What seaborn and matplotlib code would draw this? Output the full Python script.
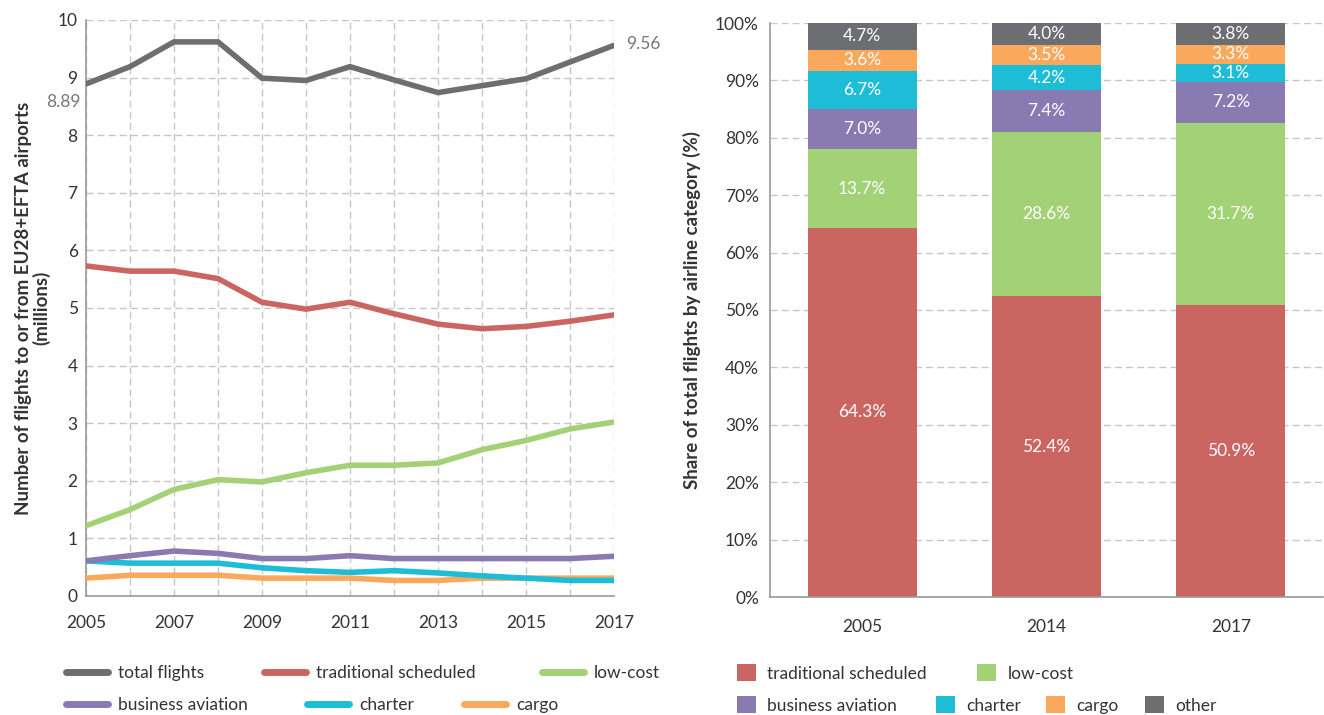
import numpy as np
import pandas as pd
import matplotlib
matplotlib.use("Agg")
import matplotlib.pyplot as plt
import seaborn as sns
from matplotlib.lines import Line2D
from matplotlib.patches import Patch

# ---------------- data ----------------
years = list(range(2005, 2018))
total_flights = [8.89, 9.19, 9.62, 9.62, 8.99, 8.95, 9.19, 8.96, 8.74, 8.86, 8.98, 9.27, 9.56]
traditional = [5.73, 5.64, 5.64, 5.51, 5.10, 4.98, 5.10, 4.90, 4.72, 4.64, 4.68, 4.77, 4.88]
low_cost = [1.22, 1.50, 1.85, 2.02, 1.98, 2.14, 2.27, 2.27, 2.31, 2.54, 2.70, 2.90, 3.02]
business = [0.61, 0.70, 0.78, 0.74, 0.65, 0.65, 0.70, 0.65, 0.65, 0.65, 0.65, 0.65, 0.69]
charter = [0.61, 0.57, 0.57, 0.57, 0.49, 0.44, 0.41, 0.44, 0.40, 0.35, 0.31, 0.27, 0.27]
cargo = [0.31, 0.36, 0.36, 0.36, 0.31, 0.31, 0.31, 0.27, 0.27, 0.31, 0.31, 0.31, 0.31]

line_series = ["total flights", "traditional scheduled", "low-cost",
               "business aviation", "charter", "cargo"]

bar_years = ["2005", "2014", "2017"]
bar_categories = ["traditional scheduled", "low-cost", "business aviation",
                  "charter", "cargo", "other"]
share_traditional = [64.3, 52.4, 50.9]
share_low_cost = [13.7, 28.6, 31.7]
share_business = [7.0, 7.4, 7.2]
share_charter = [6.7, 4.2, 3.1]
share_cargo = [3.6, 3.5, 3.3]
share_other = [4.7, 4.0, 3.8]

colors = {
    "total flights": "#6d6e71",
    "traditional scheduled": "#cb6562",
    "low-cost": "#a2d176",
    "business aviation": "#8a7ab2",
    "charter": "#1dbdd7",
    "cargo": "#f9a85c",
    "other": "#6d6e71",
}

# ---------------- style ----------------
sns.set_theme(style="white")
plt.rcParams["font.family"] = ["Lato", "DejaVu Sans"]
text_color = "#333333"
grid_color = "#c6c6c6"
spine_color = "#9a9a9a"

W, H = 1324, 715
fig = plt.figure(figsize=(W / 100, H / 100), dpi=100)

def ax_rect(x0, y0, x1, y1):
    return [x0 / W, 1 - y1 / H, (x1 - x0) / W, (y1 - y0) / H]

# ---------------- left: line chart ----------------
ax1 = fig.add_axes(ax_rect(86, 20, 614, 596))
values = [total_flights, traditional, low_cost, business, charter, cargo]
df_lines = pd.DataFrame({
    "year": np.tile(years, len(line_series)),
    "value": np.concatenate(values),
    "series": np.repeat(line_series, len(years)),
})
sns.lineplot(data=df_lines, x="year", y="value", hue="series",
             hue_order=line_series[::-1], palette=colors, linewidth=4.0,
             legend=False, ax=ax1, zorder=3)
for ln in ax1.lines:
    ln.set_solid_capstyle("round")
    ln.set_solid_joinstyle("miter")

ax1.set_xlim(2005, 2017)
ax1.set_ylim(0, 10)
ax1.set_xticks(years)
ax1.set_xticklabels([str(y) if (y - 2005) % 2 == 0 else "" for y in years])
ax1.set_yticks(range(0, 11))
ax1.grid(True, axis="both", linestyle=(0, (5, 3)), color=grid_color, linewidth=1.0)
ax1.set_axisbelow(True)
ax1.tick_params(axis="both", length=0, labelsize=12.5, colors=text_color)
ax1.tick_params(axis="x", pad=14)
ax1.tick_params(axis="y", pad=6)
for s in ["top", "right"]:
    ax1.spines[s].set_visible(False)
for s in ["left", "bottom"]:
    ax1.spines[s].set_color(spine_color)
    ax1.spines[s].set_linewidth(1.2)
ax1.set_xlabel("")
ax1.set_ylabel("Number of flights to or from EU28+EFTA airports\n(millions)",
               fontsize=13.5, fontweight="bold", color=text_color, labelpad=5,
               linespacing=1.05)

ax1.annotate(f"{total_flights[0]:.2f}", xy=(years[0], total_flights[0]),
             xytext=(-4, -13), textcoords="offset points", ha="right", va="center",
             fontsize=12.5, color="#777777", annotation_clip=False)
ax1.annotate(f"{total_flights[-1]:.2f}", xy=(years[-1], total_flights[-1]),
             xytext=(9, 1), textcoords="offset points", ha="left", va="center",
             fontsize=12.5, color="#777777", annotation_clip=False)

# ---------------- right: stacked bars ----------------
ax2 = fig.add_axes(ax_rect(770, 23, 1323, 597))
shares = [share_traditional, share_low_cost, share_business,
          share_charter, share_cargo, share_other]
share_arr = np.array(shares)
cum = np.cumsum(share_arr, axis=0)
for i in range(len(bar_categories) - 1, -1, -1):
    df_bar = pd.DataFrame({"year": bar_years, "cum": cum[i]})
    sns.barplot(data=df_bar, x="year", y="cum", order=bar_years,
                color=colors[bar_categories[i]], saturation=1, width=0.59,
                ax=ax2, zorder=2, linewidth=0)

for i in range(len(bar_categories)):
    for j in range(len(bar_years)):
        v = share_arr[i, j]
        ax2.text(j, cum[i, j] - v / 2, f"{v:.1f}%", ha="center", va="center",
                 color="white", fontsize=12.5, zorder=5)

ax2.set_xlim(-0.5, 2.5)
ax2.set_ylim(0, 100)
ax2.set_yticks(range(0, 101, 10))
ax2.set_yticklabels([f"{t}%" for t in range(0, 101, 10)])
ax2.grid(True, axis="y", linestyle=(0, (5, 3)), color=grid_color, linewidth=1.0)
ax2.grid(False, axis="x")
ax2.set_axisbelow(True)
ax2.tick_params(axis="both", length=0, labelsize=12.5, colors=text_color)
ax2.tick_params(axis="x", pad=16)
ax2.tick_params(axis="y", pad=8)
for s in ["top", "right"]:
    ax2.spines[s].set_visible(False)
for s in ["left", "bottom"]:
    ax2.spines[s].set_color(spine_color)
    ax2.spines[s].set_linewidth(1.2)
ax2.set_xlabel("")
ax2.set_ylabel("Share of total flights by airline category (%)", fontsize=13.5,
               fontweight="bold", color=text_color, labelpad=10)

# ---------------- legends ----------------
row1, row2 = 673, 705
left_pos = {
    "total flights": (66, row1), "traditional scheduled": (264, row1),
    "low-cost": (542, row1), "business aviation": (66, row2),
    "charter": (307, row2), "cargo": (464, row2),
}
for name in line_series:
    h = Line2D([0], [0], color=colors[name], linewidth=5, solid_capstyle="round")
    fig.legend(handles=[h], labels=[name], loc="center left",
               bbox_to_anchor=(left_pos[name][0] / W, 1 - left_pos[name][1] / H),
               frameon=False, fontsize=12.5, borderpad=0, borderaxespad=0,
               handlelength=2.4, handletextpad=0.6, labelcolor=text_color)

right_pos = {
    "traditional scheduled": (737, row1), "low-cost": (977, row1),
    "business aviation": (737, row2), "charter": (936, row2),
    "cargo": (1046, row2), "other": (1145, row2),
}
for name in bar_categories:
    h = Patch(facecolor=colors[name], edgecolor="none")
    fig.legend(handles=[h], labels=[name], loc="center left",
               bbox_to_anchor=(right_pos[name][0] / W, 1 - right_pos[name][1] / H),
               frameon=False, fontsize=12.5, borderpad=0, borderaxespad=0,
               handlelength=1.1, handleheight=1.1, handletextpad=0.65,
               labelcolor=text_color)

fig.savefig("out.png", dpi=100)
